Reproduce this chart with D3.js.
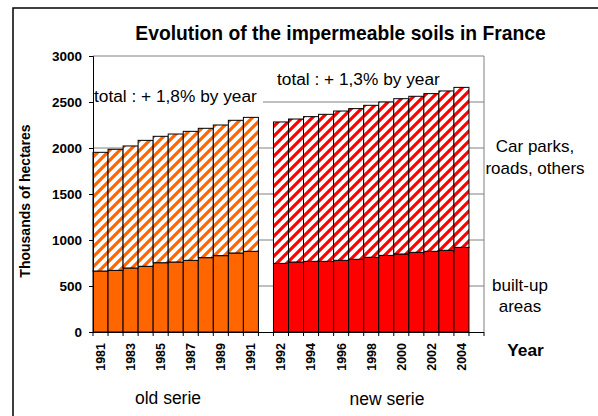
<!DOCTYPE html>
<html><head><meta charset="utf-8">
<script src="https://cdn.jsdelivr.net/npm/d3@7"></script>
<style>body{margin:0;background:#fff}svg{display:block;font-family:Arial,"Liberation Sans",sans-serif}</style>
</head><body><svg id="c" width="598" height="416"></svg>
<script>
const oldYears = ["1981","1982","1983","1984","1985","1986","1987","1988","1989","1990","1991"];
const newYears = ["1992","1993","1994","1995","1996","1997","1998","1999","2000","2001","2002","2003","2004"];
const oldBuiltUp = [663,670,696,714,753,761,779,808,830,859,877];
const oldOthers  = [1290,1316,1326,1369,1374,1391,1402,1406,1420,1442,1456];
const newBuiltUp = [746,761,768,768,779,790,812,833,848,866,877,888,920];
const newOthers  = [1537,1554,1573,1598,1623,1638,1652,1667,1688,1696,1714,1732,1739];
const labeledYears = ["1981","1983","1985","1987","1989","1991","1992","1994","1996","1998","2000","2002","2004"];
const yTicks = [0,500,1000,1500,2000,2500,3000];

const svg = d3.select("#c");
const L = 93, R = 484, T = 56, B = 332;
const slots = [...oldYears, "gap", ...newYears, "end"];
const x = d3.scaleBand().domain(slots).range([L, R]).padding(0);
const y = d3.scaleLinear().domain([0, 3000]).range([B, T]);

// outer frame
svg.append("rect").attr("x",13).attr("y",8).attr("width",600).attr("height",420)
  .attr("fill","none").attr("stroke","#000").attr("stroke-width",1.5);

// patterns
const defs = svg.append("defs");
[["hatchOld","#FF6600"],["hatchNew","#FF0000"]].forEach(([id,c])=>{
  const p = defs.append("pattern").attr("id",id).attr("patternUnits","userSpaceOnUse")
    .attr("width",10).attr("height",10);
  p.append("rect").attr("width",10).attr("height",10).attr("fill","#fff");
  p.append("path").attr("d","M0,10L10,0M-2,2L2,-2M8,12L12,8").attr("stroke",c).attr("stroke-width",3.2);
});

// gridlines
svg.append("g").selectAll("line").data(yTicks.filter(d=>d>0)).join("line")
  .attr("x1",L).attr("x2",R).attr("y1",d=>y(d)).attr("y2",d=>y(d))
  .attr("stroke","#808080").attr("stroke-width",1);
svg.append("line").attr("x1",R).attr("x2",R).attr("y1",T).attr("y2",B).attr("stroke","#808080");

// annotation boxes
svg.append("rect").attr("x",90).attr("y",80).attr("width",173).attr("height",31).attr("fill","#fff");
svg.append("rect").attr("x",272).attr("y",64).attr("width",172).attr("height",29).attr("fill","#fff");

// stacked bars
function drawSeries(years, built, others, solid, hatch){
  const rows = years.map((yr,i)=>({year:yr, built:built[i], others:others[i]}));
  const stack = d3.stack().keys(["built","others"])(rows);
  const g = svg.append("g");
  stack.forEach((layer,k)=>{
    g.selectAll(null).data(layer).join("rect")
      .attr("x",d=>x(d.data.year)).attr("width",x.bandwidth())
      .attr("y",d=>y(d[1])).attr("height",d=>y(d[0])-y(d[1]))
      .attr("fill", k===0 ? solid : `url(#${hatch})`)
      .attr("stroke","#000").attr("stroke-width",1);
  });
}
drawSeries(oldYears, oldBuiltUp, oldOthers, "#FF6600", "hatchOld");
drawSeries(newYears, newBuiltUp, newOthers, "#FF0000", "hatchNew");

// y axis
const ya = svg.append("g").attr("transform",`translate(${L},0)`)
  .call(d3.axisLeft(y).tickValues(yTicks).tickSize(4).tickPadding(7).tickFormat(d3.format("d")));
ya.select(".domain").attr("stroke","#000");
ya.selectAll(".tick line").attr("stroke","#000");
ya.selectAll("text").attr("font-size",13.5).attr("font-weight","bold").attr("fill","#000")
  .attr("font-family","Arial, 'Liberation Sans', sans-serif");

// x axis
const xa = svg.append("g").attr("transform",`translate(0,${B})`)
  .call(d3.axisBottom(x).tickSize(0).tickFormat(d=>labeledYears.includes(d)?d:""));
xa.select(".domain").attr("d",`M${L},0.5H${R}`).attr("stroke","#000");
xa.selectAll("text").attr("font-size",12.5).attr("font-weight","bold").attr("fill","#000")
  .attr("font-family","Arial, 'Liberation Sans', sans-serif")
  .attr("transform","rotate(-90)").attr("text-anchor","end").attr("dy","0.35em").attr("x",-11).attr("y",0);
svg.append("g").selectAll("line").data(slots).join("line")
  .attr("x1",d=>x(d)).attr("x2",d=>x(d)).attr("y1",B).attr("y2",B+4).attr("stroke","#000");
svg.append("line").attr("x1",R).attr("x2",R).attr("y1",B).attr("y2",B+4).attr("stroke","#000");

// texts
const txt = (t,xx,yy,o={}) => svg.append("text").attr("x",xx).attr("y",yy)
  .attr("font-size",o.size||17).attr("font-weight",o.bold?"bold":"normal")
  .attr("text-anchor",o.anchor||"middle").attr("fill","#000").text(t);
txt("Evolution of the impermeable soils in France",340.5,40,{size:19.3,bold:true});
txt("total : + 1,8% by year",94,102,{anchor:"start",size:17.3});
txt("total : + 1,3% by year",277,85,{anchor:"start",size:17.3});
txt("Car parks,",535,152);
txt("roads, others",535,174);
txt("built-up",520,291);
txt("areas",520,312);
txt("Year",525.5,356,{size:17.3,bold:true});
txt("old serie",168,404,{size:17.5});
txt("new serie",387,405,{size:17.5});
svg.append("text").attr("transform","translate(30,201) rotate(-90)").attr("text-anchor","middle")
  .attr("font-size",14).attr("font-weight","bold").text("Thousands of hectares");
</script></body></html>
